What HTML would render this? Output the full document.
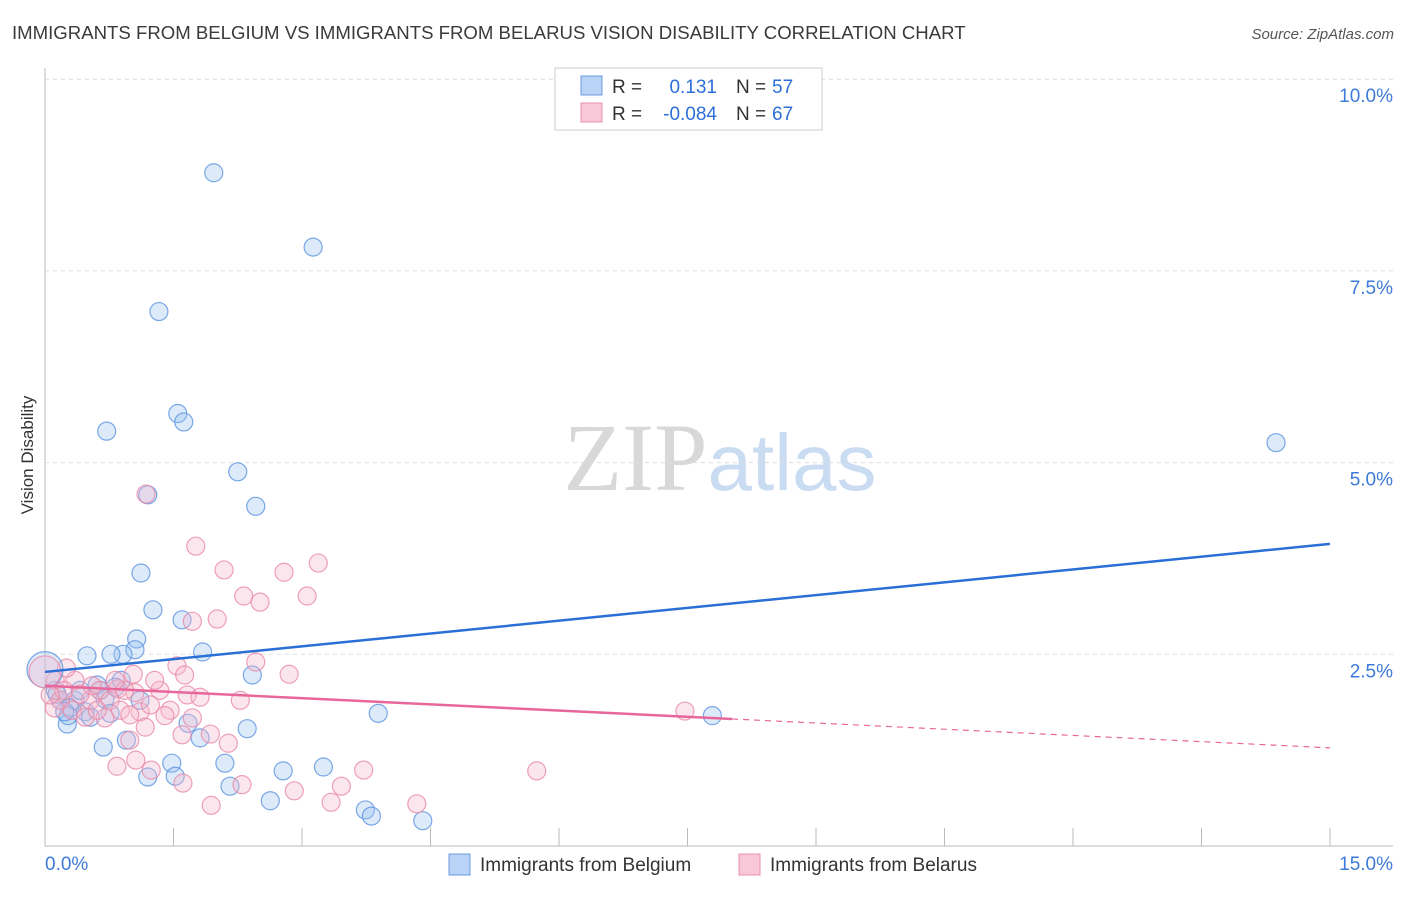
<!DOCTYPE html>
<html><head><meta charset="utf-8"><style>
body{margin:0;background:#fff;font-family:"Liberation Sans",sans-serif;}
</style></head><body>
<svg id="chart" width="1406" height="892" xmlns="http://www.w3.org/2000/svg" style="font-family:'Liberation Sans',sans-serif">
<text x="12" y="39" font-size="18.6" fill="#3a3a3a">IMMIGRANTS FROM BELGIUM VS IMMIGRANTS FROM BELARUS VISION DISABILITY CORRELATION CHART</text>
<text x="1394" y="39" font-size="15" fill="#555" text-anchor="end" font-style="italic">Source: ZipAtlas.com</text>
<text transform="translate(33,455) rotate(-90)" font-size="17" fill="#333" text-anchor="middle">Vision Disability</text>
<text x="720" y="490" font-size="96" text-anchor="middle"><tspan fill="#d8d8d8" font-family="'Liberation Serif',serif">ZIP</tspan><tspan fill="#c9dcf2" font-size="80">atlas</tspan></text>
<g id="grid"></g><g id="marks"></g>
<g>
<rect x="555" y="68" width="267" height="62" fill="#fff" stroke="#ccc"/>
<rect x="581" y="76" width="21" height="19" fill="#b8d3f5" stroke="#6a9be0"/>
<rect x="581" y="103" width="21" height="19" fill="#f8c8d8" stroke="#e890b0"/>
<text x="612" y="93" font-size="19" fill="#333">R = </text><text x="717" y="93" font-size="19" fill="#2d6fd8" text-anchor="end">0.131</text>
<text x="736" y="93" font-size="19" fill="#333">N = </text><text x="772" y="93" font-size="19" fill="#2d6fd8">57</text>
<text x="612" y="120" font-size="19" fill="#333">R = </text><text x="717" y="120" font-size="19" fill="#2d6fd8" text-anchor="end">-0.084</text>
<text x="736" y="120" font-size="19" fill="#333">N = </text><text x="772" y="120" font-size="19" fill="#2d6fd8">67</text>
</g>
<g>
<rect x="449" y="854" width="21" height="21" fill="#b8d3f5" stroke="#6a9be0"/>
<text x="480" y="871" font-size="19" fill="#333">Immigrants from Belgium</text>
<rect x="739" y="854" width="21" height="21" fill="#f8c8d8" stroke="#e890b0"/>
<text x="770" y="871" font-size="19" fill="#333">Immigrants from Belarus</text>
</g>
</svg>
<script>
const yTicks=[2.5,5.0,7.5,10.0];
const xTickLabels=["0.0%","15.0%"];
const blueX=[1.97,3.13,1.33,1.55,1.62,0.72,2.25,1.20,2.46,1.12,1.26,1.60,1.07,1.05,0.91,0.77,0.49,1.84,2.42,0.89,0.61,0.12,0.18,0.35,0.29,0.47,0.53,0.26,0.70,0.82,3.89,7.79,2.36,1.67,0.95,0.68,1.81,2.10,1.48,1.20,1.52,2.16,2.78,3.25,2.63,3.74,3.81,4.41,14.37,0.14,0.41,0.27,0.76,1.11,0.64,0.23];
const blueY=[8.78,7.81,6.97,5.64,5.53,5.41,4.88,4.58,4.43,3.56,3.08,2.95,2.70,2.56,2.50,2.50,2.48,2.53,2.23,2.16,2.10,2.03,1.90,1.90,1.80,1.75,1.68,1.59,1.92,2.07,1.73,1.70,1.53,1.60,1.38,1.29,1.41,1.08,1.08,0.90,0.91,0.78,0.98,1.03,0.59,0.47,0.39,0.33,5.26,1.98,2.03,1.70,1.73,1.90,2.03,1.75];
const pinkX=[1.18,1.76,2.09,2.79,3.19,2.32,2.51,3.06,2.01,1.72,2.46,1.54,1.63,2.85,2.28,1.03,1.34,1.66,1.81,1.05,0.85,0.64,1.46,1.72,1.11,1.40,1.17,0.99,1.60,2.14,1.93,1.06,0.84,1.24,1.61,2.30,1.94,3.72,3.46,3.34,2.91,4.34,5.74,7.47,0.12,0.18,0.32,0.47,0.53,0.35,0.76,0.93,1.23,0.22,0.70,0.88,1.28,0.82,0.61,0.11,0.06,0.41,0.55,0.25,0.99];
const pinkY=[4.59,3.91,3.60,3.57,3.69,3.26,3.18,3.26,2.96,2.93,2.40,2.35,2.23,2.24,1.90,2.24,2.03,1.97,1.94,2.00,2.05,2.03,1.77,1.67,1.75,1.70,1.55,1.38,1.45,1.34,1.46,1.12,1.04,0.99,0.82,0.80,0.53,0.99,0.78,0.57,0.72,0.55,0.98,1.76,2.16,1.90,1.77,1.68,1.90,2.16,1.90,2.03,1.84,2.03,1.67,1.77,2.16,2.16,1.77,1.80,1.97,1.98,2.09,2.32,1.71];
const bigBlue=[0,2.30], bigPink=[0,2.27];
const blueTrend=[2.27,3.94], pinkTrend=[2.09,1.28], pinkSolidEnd=8.02;
const X=v=>45+v/15*1285, Y=v=>846-v*76.68;
const NS="http://www.w3.org/2000/svg";
const grid=document.getElementById('grid'), marks=document.getElementById('marks');
function mk(p,tag,a){const e=document.createElementNS(NS,tag);for(const k in a)e.setAttribute(k,a[k]);p.appendChild(e);return e;}
let e=mk(grid,'line',{x1:45,y1:68,x2:45,y2:846,stroke:'#bbb'});


e=mk(grid,'line',{x1:45,y1:846,x2:1393,y2:846,stroke:'#bbb'});


for(let i=0;i<=10;i++){const x=X(i*1.5);e=mk(grid,'line',{x1:x,y1:828,x2:x,y2:846,stroke:'#bbb'});

}
yTicks.forEach(t=>{e=mk(grid,'line',{x1:45,y1:Y(t),x2:1393,y2:Y(t),stroke:'#ddd','stroke-dasharray':'4,4'});


e=mk(grid,'text',{x:1393,y:Y(t)+23,'font-size':19,fill:'#3d7bd9','text-anchor':'end'});e.textContent=t.toFixed(1)+'%';

});
e=mk(grid,'text',{x:45,y:870,'font-size':19,fill:'#3d7bd9'});e.textContent=xTickLabels[0];


e=mk(grid,'text',{x:1393,y:870,'font-size':19,fill:'#3d7bd9','text-anchor':'end'});e.textContent=xTickLabels[1];


function dot(x,y,r,f,s,name){const c=mk(marks,'circle',{cx:X(x),cy:Y(y),r:r,fill:f,'fill-opacity':0.35,stroke:s,'stroke-opacity':0.8,'stroke-width':1.2});

}
blueX.forEach((x,i)=>dot(x,blueY[i],9,'#9cc2f0','#5b93e0','belgium-point'));
pinkX.forEach((x,i)=>dot(x,pinkY[i],9,'#f7b6cb','#e88aa8','belarus-point'));
dot(bigBlue[0],bigBlue[1],18,'#9cc2f0','#5b93e0','belgium-point-large');
dot(bigPink[0],bigPink[1],16,'#f7b6cb','#e88aa8','belarus-point-large');
e=mk(marks,'line',{x1:X(0),y1:Y(blueTrend[0]),x2:X(15),y2:Y(blueTrend[1]),stroke:'#2a6fd6','stroke-width':2.5});


const pAt=x=>pinkTrend[0]+(pinkTrend[1]-pinkTrend[0])*x/15;
e=mk(marks,'line',{x1:X(0),y1:Y(pinkTrend[0]),x2:X(pinkSolidEnd),y2:Y(pAt(pinkSolidEnd)),stroke:'#e8679a','stroke-width':2.5});


e=mk(marks,'line',{x1:X(pinkSolidEnd),y1:Y(pAt(pinkSolidEnd)),x2:X(15),y2:Y(pinkTrend[1]),stroke:'#e8679a','stroke-width':1.2,'stroke-dasharray':'6,5'});


</script>
</body></html>
